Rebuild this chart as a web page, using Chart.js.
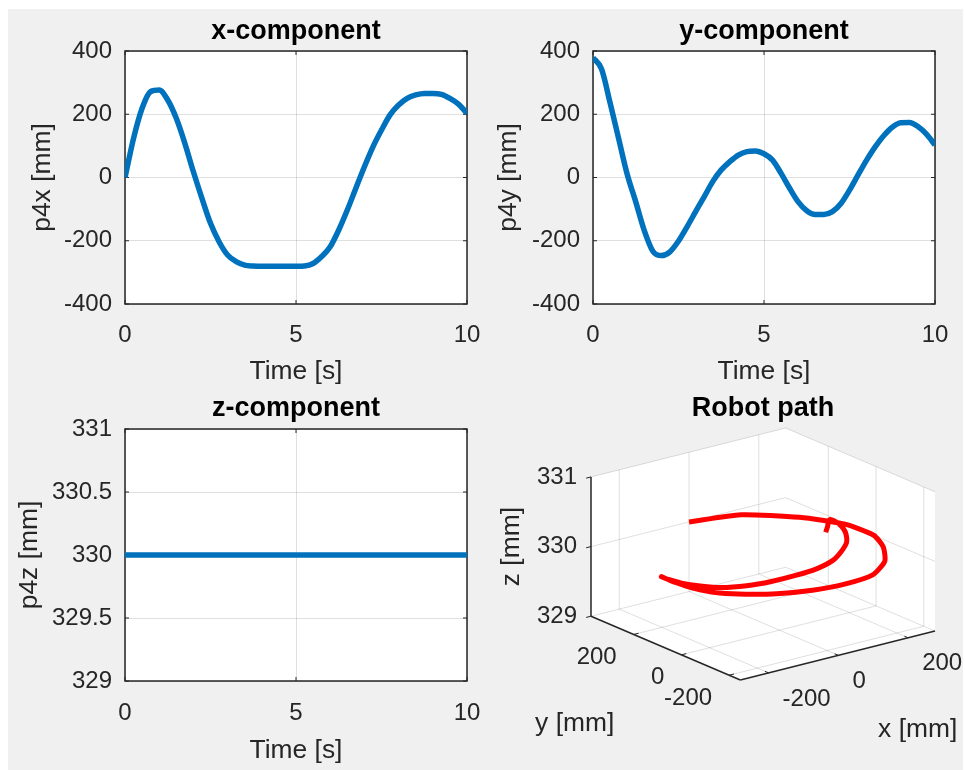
<!DOCTYPE html>
<html>
<head>
    <title>Robot path</title>
    <script src="https://cdn.jsdelivr.net/npm/chart.js@4.4.0/dist/chart.umd.min.js"></script>
    <style>
        body {
            margin: 0;
            background: #fff;
        }
        #fig {
            position: relative;
            width: 965px;
            height: 770px;
        }
        #bg {
            position: absolute;
            left: 8px;
            top: 9px;
            width: 955px;
            height: 761px;
            background: #f0f0f0;
        }
        canvas {
            position: absolute;
        }
    </style>
</head>
<body>
    <div id="fig">
        <div id="bg"></div>
        <canvas id="x-chart" width="480" height="390" style="left:0;top:0"></canvas>
        <canvas id="y-chart" width="485" height="390" style="left:480px;top:0"></canvas>
        <canvas id="z-chart" width="480" height="380" style="left:0;top:390px"></canvas>
        <canvas id="path-chart" width="485" height="380" style="left:480px;top:390px"></canvas>
    </div>

    <script>
        const time = [0, 0.25, 0.5, 0.75, 1, 1.25, 1.5, 1.75, 2, 2.25, 2.5, 2.75, 3, 3.25, 3.5, 3.75,
                      4, 4.25, 4.5, 4.75, 5, 5.25, 5.5, 5.75, 6, 6.25, 6.5, 6.75, 7, 7.25, 7.5, 7.75,
                      8, 8.25, 8.5, 8.75, 9, 9.25, 9.5, 9.75, 10];
        const p4x = [0, 124, 219, 272, 277, 245, 187, 108, 18, -66, -145, -203, -245, -266, -277, -280,
                     -281, -281, -281, -281, -281, -280, -272, -250, -219, -166, -103, -34, 34, 97, 150, 198,
                     229, 250, 261, 266, 266, 263, 250, 232, 203];
        const p4y = [379, 343, 236, 123, 10, -77, -168, -233, -247, -235, -201, -156, -108, -61, -13, 24,
                     50, 71, 82, 84, 75, 55, 13, -34, -77, -105, -117, -117, -108, -82, -40, 8,
                     55, 97, 132, 159, 173, 174, 161, 137, 103];
        const p4z = [330, 330, 330, 330, 330, 330, 330, 330, 330, 330, 330, 330, 330, 330, 330, 330,
                     330, 330, 330, 330, 330, 330, 330, 330, 330, 330, 330, 330, 330, 330, 330, 330,
                     330, 330, 330, 330, 330, 330, 330, 330, 330];

        const timeTicks = [0, 5, 10];
        const mmTicks = [-400, -200, 0, 200, 400];
        const zTicks = [329, 329.5, 330, 330.5, 331];
        const pathTicksX = [-200, 0, 200];
        const pathTicksY = [-200, 0, 200];
        const pathTicksZ = [329, 330, 331];

        const FONT = "'Liberation Sans', Arial, Helvetica, sans-serif";
        const INK = '#262626';
        const GRID = 'rgba(38,38,38,0.15)';
        const BLUE = '#0072BD';

        // white axes background, box, inward ticks and title
        const axesPlugin = {
            id: 'matlabAxes',
            beforeDraw(chart, args, opts) {
                if (!opts.box) return;
                const a = chart.chartArea, ctx = chart.ctx;
                ctx.save();
                ctx.fillStyle = '#fff';
                ctx.fillRect(a.left, a.top, a.right - a.left, a.bottom - a.top);
                ctx.restore();
            },
            beforeDatasetsDraw(chart, args, opts) {
                if (!opts.box) return;
                const a = chart.chartArea, ctx = chart.ctx;
                const len = 4;
                ctx.save();
                ctx.strokeStyle = INK;
                ctx.lineWidth = 1.5;
                ctx.strokeRect(a.left, a.top, a.right - a.left, a.bottom - a.top);
                ctx.lineWidth = 1;
                ctx.beginPath();
                chart.scales.x.ticks.forEach(t => {
                    const px = chart.scales.x.getPixelForValue(t.value);
                    ctx.moveTo(px, a.bottom); ctx.lineTo(px, a.bottom - len);
                    ctx.moveTo(px, a.top); ctx.lineTo(px, a.top + len);
                });
                chart.scales.y.ticks.forEach(t => {
                    const py = chart.scales.y.getPixelForValue(t.value);
                    ctx.moveTo(a.left, py); ctx.lineTo(a.left + len, py);
                    ctx.moveTo(a.right, py); ctx.lineTo(a.right - len, py);
                });
                ctx.stroke();
                ctx.restore();
            },
            afterDraw(chart, args, opts) {
                const a = chart.chartArea, ctx = chart.ctx;
                ctx.save();
                ctx.fillStyle = '#000';
                ctx.font = 'bold 27px ' + FONT;
                ctx.textAlign = 'center';
                ctx.textBaseline = 'middle';
                ctx.fillText(opts.title, (a.left + a.right) / 2, opts.titleY);
                ctx.restore();
            }
        };

        function lineChart(id, cfg) {
            return new Chart(document.getElementById(id), {
                type: 'line',
                data: {
                    datasets: [{
                        data: time.map((t, i) => ({x: t, y: cfg.values[i]})),
                        borderColor: BLUE,
                        borderWidth: 5.5,
                        pointRadius: 0,
                        cubicInterpolationMode: 'monotone'
                    }]
                },
                options: {
                    responsive: false,
                    animation: false,
                    devicePixelRatio: 1,
                    layout: { padding: cfg.pad },
                    scales: {
                        x: {
                            type: 'linear',
                            min: timeTicks[0],
                            max: timeTicks[timeTicks.length - 1],
                            afterBuildTicks: s => { s.ticks = timeTicks.map(v => ({value: v})); },
                            afterFit: s => { s.height = cfg.xHeight; s.paddingLeft = 0; s.paddingRight = 0; },
                            grid: { color: GRID, drawTicks: false },
                            border: { display: false },
                            ticks: { padding: cfg.xTickPad, color: INK, font: { family: FONT, size: 24 }, maxRotation: 0, callback: v => String(v) },
                            title: { display: true, text: 'Time [s]', color: INK, font: { family: FONT, size: 26.4 }, padding: { top: 0, bottom: cfg.xTitlePad } }
                        },
                        y: {
                            type: 'linear',
                            min: cfg.ticks[0],
                            max: cfg.ticks[cfg.ticks.length - 1],
                            afterBuildTicks: s => { s.ticks = cfg.ticks.map(v => ({value: v})); },
                            afterFit: s => { s.width = cfg.yWidth; },
                            grid: { color: GRID, drawTicks: false },
                            border: { display: false },
                            ticks: { padding: 13, color: INK, font: { family: FONT, size: 24 }, callback: v => String(v) },
                            title: { display: true, text: cfg.yLabel, color: INK, font: { family: FONT, size: 26.4 }, padding: { top: cfg.yTitlePad, bottom: 0 } }
                        }
                    },
                    plugins: {
                        legend: { display: false },
                        tooltip: { enabled: false },
                        matlabAxes: { box: true, title: cfg.title, titleY: cfg.titleY }
                    }
                },
                plugins: [axesPlugin]
            });
        }

        lineChart('x-chart', {
            values: p4x, ticks: mmTicks, title: 'x-component', yLabel: 'p4x [mm]',
            pad: { top: 51, right: 13, bottom: 0, left: 0 },
            xHeight: 86, yWidth: 125, xTickPad: 17, xTitlePad: 2, yTitlePad: 27, titleY: 32
        });
        lineChart('y-chart', {
            values: p4y, ticks: mmTicks, title: 'y-component', yLabel: 'p4y [mm]',
            pad: { top: 51, right: 30, bottom: 0, left: 0 },
            xHeight: 86, yWidth: 113, xTickPad: 17, xTitlePad: 2, yTitlePad: 13, titleY: 32
        });
        lineChart('z-chart', {
            values: p4z, ticks: zTicks, title: 'z-component', yLabel: 'p4z [mm]',
            pad: { top: 39, right: 13, bottom: 0, left: 0 },
            xHeight: 89, yWidth: 125, xTickPad: 18, xTitlePad: 3, yTitlePad: 13.5, titleY: 19
        });

        // 3-D view, MATLAB default az/el, tight limits
        const AZ = -37.5 * Math.PI / 180;
        const EL = 30 * Math.PI / 180;
        const xLim = [Math.min(...p4x), Math.max(...p4x)];
        const yLim = [Math.min(...p4y), Math.max(...p4y)];
        const zLim = [pathTicksZ[0], pathTicksZ[pathTicksZ.length - 1]];

        function project(x, y, z) {
            const X = (x - xLim[0]) / (xLim[1] - xLim[0]);
            const Y = (y - yLim[0]) / (yLim[1] - yLim[0]);
            const Z = (z - zLim[0]) / (zLim[1] - zLim[0]);
            return {
                x: X * Math.cos(AZ) + Y * Math.sin(AZ),
                y: -X * Math.sin(AZ) * Math.sin(EL) + Y * Math.cos(AZ) * Math.sin(EL) + Z * Math.cos(EL)
            };
        }

        const corners = [];
        xLim.forEach(x => yLim.forEach(y => zLim.forEach(z => corners.push(project(x, y, z)))));
        const uMin = Math.min(...corners.map(c => c.x)), uMax = Math.max(...corners.map(c => c.x));
        const vMin = Math.min(...corners.map(c => c.y)), vMax = Math.max(...corners.map(c => c.y));

        const boxPlugin = {
            id: 'box3d',
            beforeDatasetsDraw(chart) {
                const ctx = chart.ctx, sx = chart.scales.x, sy = chart.scales.y;
                const P = (x, y, z) => {
                    const q = project(x, y, z);
                    return [sx.getPixelForValue(q.x), sy.getPixelForValue(q.y)];
                };
                const seg = (a, b) => { ctx.beginPath(); ctx.moveTo(a[0], a[1]); ctx.lineTo(b[0], b[1]); ctx.stroke(); };
                const [x0, x1] = xLim, [y0, y1] = yLim, [z0, z1] = zLim;
                ctx.save();

                // white walls
                const hull = [P(x0, y1, z1), P(x1, y1, z1), P(x1, y0, z1), P(x1, y0, z0), P(x0, y0, z0), P(x0, y1, z0)];
                ctx.fillStyle = '#fff';
                ctx.beginPath();
                hull.forEach((p, i) => i ? ctx.lineTo(p[0], p[1]) : ctx.moveTo(p[0], p[1]));
                ctx.closePath();
                ctx.fill();

                // grid on floor and back walls
                ctx.strokeStyle = GRID;
                ctx.lineWidth = 1;
                pathTicksX.forEach(x => { seg(P(x, y0, z0), P(x, y1, z0)); seg(P(x, y1, z0), P(x, y1, z1)); });
                pathTicksY.forEach(y => { seg(P(x0, y, z0), P(x1, y, z0)); seg(P(x1, y, z0), P(x1, y, z1)); });
                pathTicksZ.forEach(z => { seg(P(x0, y1, z), P(x1, y1, z)); seg(P(x1, y1, z), P(x1, y0, z)); });

                // axis lines + ticks
                ctx.strokeStyle = INK;
                ctx.lineWidth = 1.5;
                seg(P(x0, y0, z0), P(x1, y0, z0));
                seg(P(x0, y0, z0), P(x0, y1, z0));
                seg(P(x0, y1, z0), P(x0, y1, z1));
                const tx = (x1 - x0) * 0.025, ty = (y1 - y0) * 0.025;
                ctx.lineWidth = 1;
                pathTicksX.forEach(x => seg(P(x, y0, z0), P(x, y0 + ty, z0)));
                pathTicksY.forEach(y => seg(P(x0, y, z0), P(x0 + tx, y, z0)));
                pathTicksZ.forEach(z => seg(P(x0, y1, z), P(x0 - tx, y1, z)));

                // tick labels
                ctx.fillStyle = INK;
                ctx.font = '24px ' + FONT;
                ctx.textBaseline = 'middle';
                ctx.textAlign = 'right';
                pathTicksZ.forEach(z => { const p = P(x0, y1, z); ctx.fillText(String(z), p[0] - 14, p[1]); });
                pathTicksY.forEach(y => { const p = P(x0, y, z0); ctx.fillText(String(y), p[0] - 17, p[1] + 23); });
                ctx.textAlign = 'left';
                pathTicksX.forEach(x => { const p = P(x, y0, z0); ctx.fillText(String(x), p[0] + 14, p[1] + 26); });

                // axis labels
                ctx.font = '26.4px ' + FONT;
                ctx.textAlign = 'center';
                const xa = P((x0 + x1) / 2, y0, z0), ya = P(x0, (y0 + y1) / 2, z0), za = P(x0, y1, (z0 + z1) / 2);
                ctx.fillText('x [mm]', xa[0] + 80, xa[1] + 74);
                ctx.fillText('y [mm]', ya[0] - 91, ya[1] + 76);
                ctx.save();
                ctx.translate(za[0] - 79, za[1]);
                ctx.rotate(-Math.PI / 2);
                ctx.fillText('z [mm]', 0, 0);
                ctx.restore();

                ctx.restore();
            }
        };

        new Chart(document.getElementById('path-chart'), {
            type: 'scatter',
            data: {
                datasets: [{
                    data: time.map((t, i) => project(p4x[i], p4y[i], p4z[i])),
                    showLine: true,
                    borderColor: '#ff0000',
                    borderWidth: 5,
                    pointRadius: 0,
                    tension: 0.2,
                    clip: false
                }]
            },
            options: {
                responsive: false,
                animation: false,
                devicePixelRatio: 1,
                layout: { padding: { left: 111, right: 30, top: 38, bottom: 90 } },
                scales: {
                    x: { type: 'linear', display: false, min: uMin, max: uMax },
                    y: { type: 'linear', display: false, min: vMin, max: vMax }
                },
                plugins: {
                    legend: { display: false },
                    tooltip: { enabled: false },
                    matlabAxes: { box: false, title: 'Robot path', titleY: 19 }
                }
            },
            plugins: [boxPlugin, axesPlugin]
        });
    </script>
</body>
</html>
